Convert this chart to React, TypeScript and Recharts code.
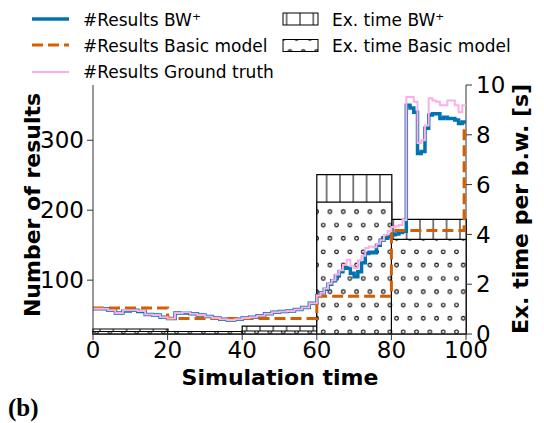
import { BarChart, Bar, ComposedChart, Line, XAxis, YAxis } from 'recharts';

// simulation time steps of the result curves
const simTimes = [
  0, 2, 4, 6, 8, 10, 12, 14, 16, 18, 20, 22, 24, 26, 28, 30, 32, 34, 36, 38,
  40, 42, 44, 46, 48, 50, 52, 54, 56, 58,
  60, 61, 62, 63, 64, 65, 66, 67, 68, 69, 70, 71, 72, 73, 74, 75, 76, 77, 78, 79,
  80, 81, 82, 83, 84, 85, 86, 87, 88, 89, 90, 91, 92, 93, 94, 95, 96, 97, 98, 99, 100,
];
const resultsBW = [
  59, 59, 57, 53, 56, 57, 55, 51, 50, 47, 45, 53, 53, 52, 50, 48, 46, 44, 43, 44,
  46, 47, 49, 52, 54, 55, 56, 58, 61, 67,
  78, 82, 87, 94, 99, 106, 112, 118, 117, 110, 105, 112, 125, 138, 140, 139, 150, 157, 160, 162,
  165, 166, 168, 170, 350, 346, 340, 281, 284, 317, 336, 338, 338, 331, 333, 331, 331, 329, 324, 326, 326,
];
const resultsTruth = [
  59, 59, 57, 53, 57, 57, 56, 51, 50, 47, 45, 53, 54, 52, 50, 48, 46, 44, 43, 44,
  46, 47, 49, 52, 54, 55, 56, 58, 61, 67,
  78, 82, 88, 95, 100, 108, 114, 122, 129, 120, 117, 128, 135, 146, 148, 147, 152, 157, 165, 170,
  176, 177, 179, 186, 362, 362, 355, 296, 300, 321, 360, 357, 355, 350, 350, 357, 357, 350, 340, 350, 350,
];
const basicTimes = [0, 20, 40, 60, 80, 99.5];
const resultsBasic = [60, 45, 45, 77, 171, 324];

// execution time per time window
const windows = ['0-20', '20-40', '40-60', '60-80', '80-100'];
const exTimeBW = [0.2, 0.1, 0.32, 6.4, 4.6];
const exTimeBasic = [0.1, 0.1, 0.12, 5.3, 3.8];

const xTicks = [0, 20, 40, 60, 80, 100];
const leftTicks = [100, 200, 300];
const rightTicks = [0, 2, 4, 6, 8, 10];

const FONT = 'DejaVu Sans';
const BLUE = '#0173b2';
const ORANGE = '#d55e00';
const PINK = '#fbafe4';
const AXIS = '#333';

const lineData = (() => {
  const rows: { t: number; bw?: number; gt?: number; basic?: number }[] = simTimes.map((t, i) => ({
    t,
    bw: resultsBW[i],
    gt: resultsTruth[i],
  }));
  basicTimes.forEach((t, i) => {
    const row = rows.find((r) => r.t === t);
    if (row) row.basic = resultsBasic[i];
    else rows.push({ t, basic: resultsBasic[i] });
  });
  return rows.sort((a, b) => a.t - b.t);
})();

const barData = windows.map((w, i) => ({ w, bw: exTimeBW[i], basic: exTimeBasic[i] }));

const tickStyle = { fontSize: 23, fill: '#000', fontFamily: FONT };

function Patterns({ prefix }: { prefix: string }) {
  return (
    <defs>
      <pattern id={prefix + 'vhatch'} patternUnits="userSpaceOnUse" width={13.33} height={13.33}>
        <rect width={13.33} height={13.33} fill="#fff" />
        <line x1={6.7} y1={0} x2={6.7} y2={13.33} stroke="#000" strokeWidth={1} />
      </pattern>
      <pattern id={prefix + 'dots'} patternUnits="userSpaceOnUse" y={5} width={13.33} height={26.67}>
        <rect width={13.33} height={26.67} fill="#fff" />
        <circle cx={10} cy={20} r={1.8} fill="none" stroke="#000" strokeWidth={1.1} />
        <circle cx={3.3} cy={6.7} r={1.8} fill="none" stroke="#000" strokeWidth={1.1} />
      </pattern>
    </defs>
  );
}

export default function App() {
  return (
    <div style={{ position: 'absolute', left: 0, top: 0, width: 544, height: 423 }}>
      <div style={{ position: 'absolute', left: 0, top: 0 }}>
        <BarChart
          width={544}
          height={423}
          data={barData}
          margin={{ top: 85, right: 0, bottom: 89, left: 93 }}
          barCategoryGap={0}
          barGap={0}
        >
          <Patterns prefix="c" />
          <XAxis xAxisId="bw" dataKey="w" hide />
          <XAxis xAxisId="basic" dataKey="w" hide />
          <YAxis
            yAxisId="r"
            orientation="right"
            domain={[0, 10]}
            ticks={rightTicks}
            width={78}
            stroke={AXIS}
            tick={tickStyle}
            tickSize={6}
            tickMargin={4}
            interval={0}
          />
          <Bar xAxisId="bw" yAxisId="r" dataKey="bw" fill="url(#cvhatch)" stroke="#000" strokeWidth={1.2} isAnimationActive={false} />
          <Bar xAxisId="basic" yAxisId="r" dataKey="basic" fill="url(#cdots)" stroke="#000" strokeWidth={1.2} isAnimationActive={false} />
        </BarChart>
      </div>
      <div style={{ position: 'absolute', left: 0, top: 0 }}>
        <ComposedChart width={544} height={423} data={lineData} margin={{ top: 85, right: 78, bottom: 0, left: 0 }}>
          <XAxis
            xAxisId="x"
            dataKey="t"
            type="number"
            domain={[0, 100]}
            ticks={xTicks}
            height={89}
            stroke={AXIS}
            tick={tickStyle}
            tickSize={6}
            tickMargin={2}
            interval={0}
          />
          <XAxis xAxisId="top" orientation="top" dataKey="t" type="number" domain={[0, 100]} height={0} tick={false} tickLine={false} stroke={AXIS} />
          <YAxis
            yAxisId="l"
            domain={[23, 379]}
            ticks={leftTicks}
            width={93}
            stroke={AXIS}
            tick={tickStyle}
            tickSize={6}
            tickMargin={3}
            interval={0}
            allowDataOverflow
          />
          <Line xAxisId="x" yAxisId="l" dataKey="bw" type="stepAfter" stroke={BLUE} strokeWidth={3.5} dot={false} connectNulls isAnimationActive={false} />
          <Line xAxisId="x" yAxisId="l" dataKey="basic" type="stepAfter" stroke={ORANGE} strokeWidth={3} strokeDasharray="11 5" dot={false} connectNulls isAnimationActive={false} />
          <Line xAxisId="x" yAxisId="l" dataKey="gt" type="stepAfter" stroke={PINK} strokeWidth={2} dot={false} connectNulls isAnimationActive={false} />
        </ComposedChart>
      </div>
      <svg width={544} height={423} style={{ position: 'absolute', left: 0, top: 0, pointerEvents: 'none' }}>
        <Patterns prefix="l" />
        <g fontFamily={FONT} fontSize={17} fill="#000">
          <line x1={32} y1={19} x2={69} y2={19} stroke={BLUE} strokeWidth={3.5} />
          <text x={83} y={25.5}>#Results BW⁺</text>
          <line x1={32} y1={45} x2={69} y2={45} stroke={ORANGE} strokeWidth={3} strokeDasharray="11 5" />
          <text x={83} y={51.5}>#Results Basic model</text>
          <line x1={32} y1={72} x2={69} y2={72} stroke={PINK} strokeWidth={2} />
          <text x={83} y={78}>#Results Ground truth</text>
          <rect x={283} y={13} width={35} height={12} fill="url(#lvhatch)" stroke="#000" strokeWidth={1} />
          <text x={332} y={25.5}>Ex. time BW⁺</text>
          <rect x={283} y={39.5} width={35} height={12} fill="url(#ldots)" stroke="#000" strokeWidth={1} />
          <text x={332} y={51.5}>Ex. time Basic model</text>
        </g>
        <g fontFamily={FONT} fontSize={22} fontWeight="bold" fill="#000" textAnchor="middle">
          <text x={280} y={385}>Simulation time</text>
          <text transform="translate(40,205) rotate(-90)">Number of results</text>
          <text transform="translate(528,209) rotate(-90)">Ex. time per b.w. [s]</text>
        </g>
        <text x={8} y={416} fontFamily="Liberation Serif" fontWeight="bold" fontSize={25}>(b)</text>
      </svg>
    </div>
  );
}
